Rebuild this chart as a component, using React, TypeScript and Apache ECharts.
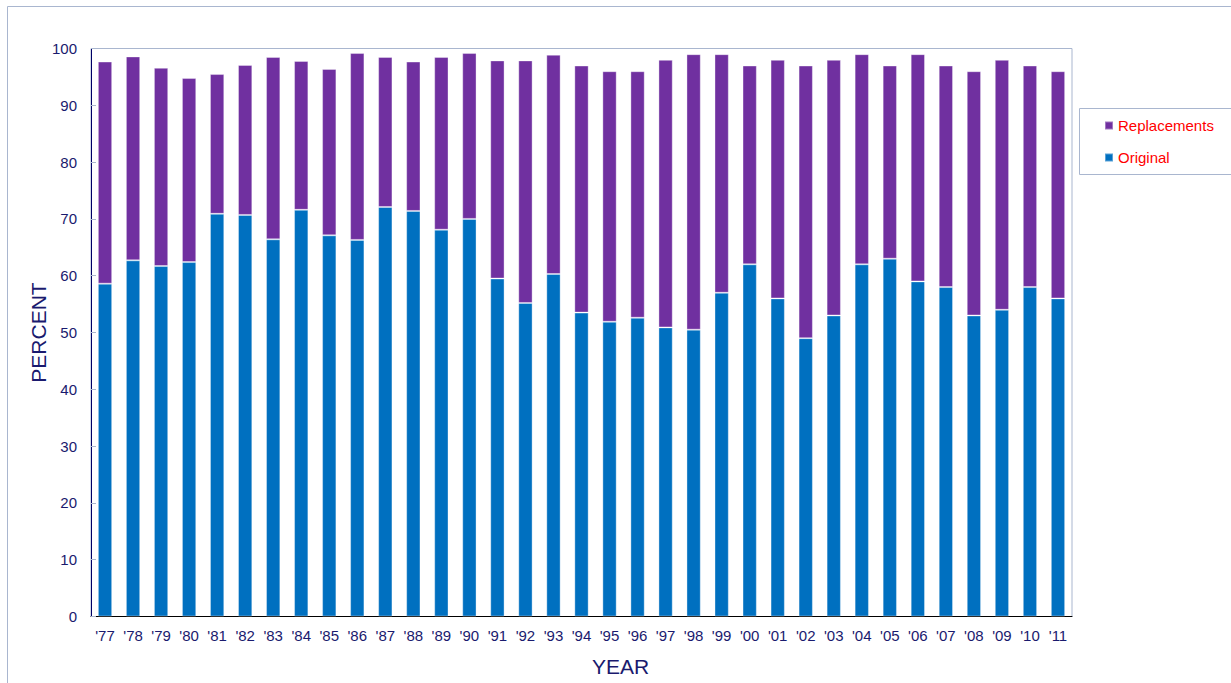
import React, { useEffect, useRef } from "react";
import * as echarts from "echarts";

const years = ["'77","'78","'79","'80","'81","'82","'83","'84","'85","'86","'87","'88","'89","'90","'91","'92","'93","'94","'95","'96","'97","'98","'99","'00","'01","'02","'03","'04","'05","'06","'07","'08","'09","'10","'11"];
const original = [58.6,62.7,61.7,62.4,70.9,70.7,66.4,71.6,67.1,66.3,72.1,71.4,68.1,70.0,59.5,55.2,60.3,53.5,51.9,52.6,50.9,50.5,57,62,56,49,53,62,63,59,58,53,54,58,56];
const replacements = [39.1,35.9,34.9,32.4,24.6,26.4,32.1,26.2,29.3,32.9,26.4,26.3,30.4,29.2,38.4,42.7,38.6,43.5,44.1,43.4,47.1,48.5,42,35,42,48,45,37,34,40,39,43,44,39,40];
const yTicks = [0, 10, 20, 30, 40, 50, 60, 70, 80, 90, 100];

const FONT = "Arial, 'Liberation Sans', sans-serif";
const NAVY = "#1a1a6e";

export default function App() {
  const ref = useRef<HTMLDivElement>(null);
  useEffect(() => {
    if (!ref.current) return;
    const chart = echarts.init(ref.current, null, { renderer: "svg" });
    chart.setOption({
      animation: false,
      backgroundColor: "#ffffff",
      textStyle: { fontFamily: FONT },
      graphic: [
        {
          type: "rect",
          shape: { x: 7.5, y: 6.5, width: 1300, height: 800 },
          style: { fill: "none", stroke: "#a9b6cf", lineWidth: 1 },
          silent: true,
        },
        {
          type: "rect",
          shape: { x: 1079.5, y: 108.5, width: 200, height: 66 },
          style: { fill: "#ffffff", stroke: "#a9b6cf", lineWidth: 1 },
          silent: true,
          z: -1,
        },
      ],
      legend: {
        data: ["Replacements", "Original"],
        orient: "vertical",
        left: 1104,
        top: 118,
        itemWidth: 8,
        itemHeight: 8,
        itemGap: 17,
        icon: "rect",
        textStyle: { color: "#ff0000", fontSize: 15, fontFamily: FONT },
        padding: 0,
        z: 10,
      },
      grid: {
        left: 91,
        top: 48.5,
        width: 981,
        height: 568,
        show: true,
        borderColor: "#a9b6cf",
        borderWidth: 1,
        backgroundColor: "transparent",
      },
      xAxis: {
        type: "category",
        data: years,
        name: "YEAR",
        nameLocation: "middle",
        nameGap: 39,
        nameTextStyle: { color: NAVY, fontSize: 21, fontFamily: FONT, padding: [0, 0, 0, 78] },
        axisLine: { lineStyle: { color: "#000000", width: 1 } },
        axisTick: { show: false },
        axisLabel: { color: NAVY, fontSize: 15, margin: 11, interval: 0, fontFamily: FONT },
      },
      yAxis: {
        type: "value",
        min: 0,
        max: 100,
        interval: 10,
        name: "PERCENT",
        nameLocation: "middle",
        nameGap: 42,
        nameMoveOverlap: false,
        nameTextStyle: { color: NAVY, fontSize: 21, fontFamily: FONT },
        axisLine: { show: true, lineStyle: { color: "#000066", width: 1 } },
        axisTick: { show: true, inside: true, length: 5, lineStyle: { color: "#a9b6cf" } },
        axisLabel: { color: NAVY, fontSize: 15, margin: 14, fontFamily: FONT, formatter: (v: number) => (yTicks.includes(v) ? String(v) : "") },
        splitLine: { show: false },
      },
      series: [
        {
          name: "Original",
          type: "bar",
          stack: "total",
          data: original,
          barWidth: "51%",
          itemStyle: { color: "#0070C0", borderColor: "rgba(255,255,255,0.35)", borderWidth: 1 },
        },
        {
          name: "Replacements",
          type: "bar",
          stack: "total",
          data: replacements,
          barWidth: "51%",
          itemStyle: { color: "#7030A0", borderColor: "rgba(255,255,255,0.35)", borderWidth: 1 },
        },
      ],
    });
    return () => chart.dispose();
  }, []);
  return <div ref={ref} style={{ position: "absolute", left: 0, top: 0, width: 1231, height: 683 }} />;
}
